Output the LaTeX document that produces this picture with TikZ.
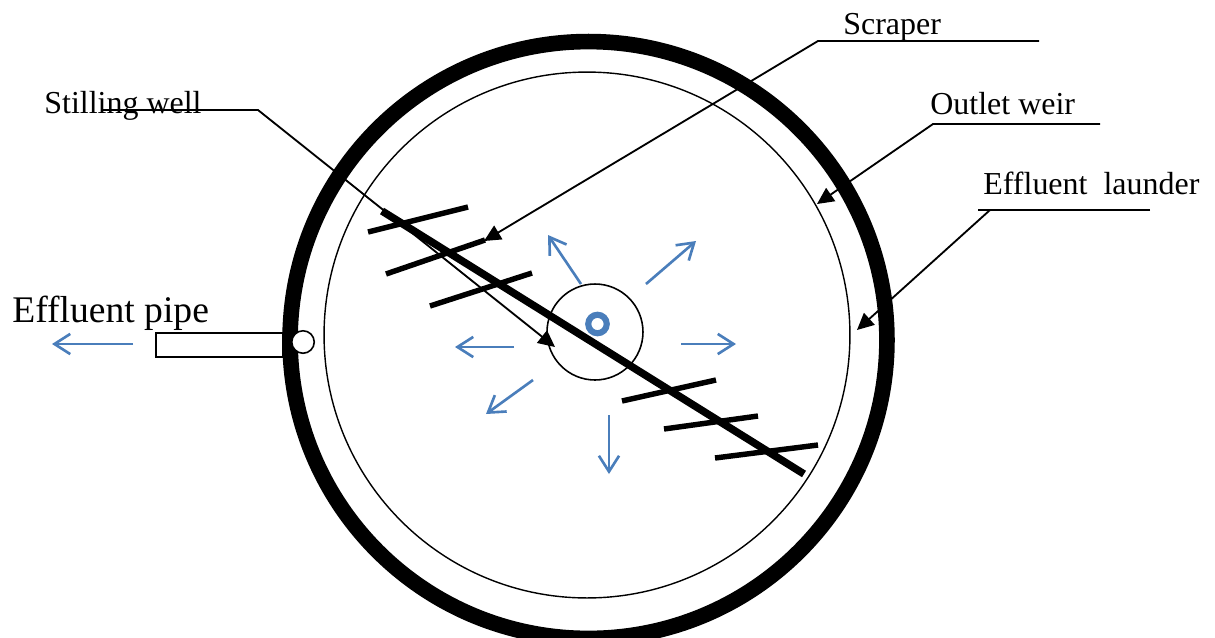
\documentclass[tikz,border=0pt]{standalone}
\usepackage{fontspec}
\setmainfont{Liberation Serif}
\usepackage{xcolor}
\usetikzlibrary{arrows.meta}
\definecolor{flowblue}{HTML}{4A7EBB}

\begin{document}
\begin{tikzpicture}[
    x=0.02cm, y=-0.02cm,
    ring/.style={draw, circle, inner sep=0pt},
    label/.style={anchor=base west, inner sep=0pt, font=\fontsize{18.2}{20}\selectfont},
    leader/.style={line width=1.05pt, -{Triangle[length=9.5pt,width=9pt]}},
    flow/.style={flowblue, line width=1.5pt, -{Straight Barb[length=9pt,width=11.5pt,line width=1.5pt]}},
    blade/.style={line width=3.1pt}
]
\useasboundingbox (0,0) rectangle (1215,637);
\clip (0,0) rectangle (1215,637);

% tank
\node (launder) [ring, line width=8.9pt, minimum size=11.94cm] at (588.5,340) {};
\node (weir) [ring, line width=0.8pt, minimum size=10.52cm] at (587,335) {};
\node (well) [ring, line width=0.9pt, minimum size=1.92cm] at (595,332) {};

% scraper arm and blades
\coordinate (armA) at (382,211);
\coordinate (armB) at (804,474);
\draw[line width=4.3pt] (armA) -- (armB);
\foreach \n/\xa/\ya/\xb/\yb in {1/368/232/468/207, 2/386/274/485/240, 3/430/306/532/273,
                                4/622/401/716/380, 5/664/429/758/416, 6/715/458/818/445} {
    \coordinate (bladeA\n) at (\xa,\ya);
    \coordinate (bladeB\n) at (\xb,\yb);
    \draw[blade] (bladeA\n) -- (bladeB\n);
}
\node (feed) [ring, draw=flowblue, line width=3.5pt, minimum size=0.37cm] at (597.5,324) {};

% pipe
\node (pipe) [draw, rectangle, inner sep=0pt, line width=0.9pt, minimum width=2.54cm, minimum height=0.48cm] at (219.5,345) {};
\node (outlet) [ring, fill=white, line width=0.9pt, minimum size=0.45cm] at (303,342) {};

% labels
\node (stilling) [label] at (44,113) {Stilling well};
\node (scraper) [label] at (843,34) {Scraper};
\node (outletweir) [label] at (930,114) {Outlet weir};
\node (efflaunder) [label] at (983,194) {Effluent\ \ launder};
\node (effpipe) [label, font=\fontsize{21.4}{24}\selectfont] at (12,322) {Effluent pipe};

% leaders
\coordinate (stillingA) at (103,110);
\coordinate (stillingB) at (258,110);
\coordinate (stillingC) at (555,347);
\coordinate (scraperA) at (1039,41);
\coordinate (scraperB) at (818,41);
\coordinate (scraperC) at (484,241);
\coordinate (outletA) at (1100,124);
\coordinate (outletB) at (933,124);
\coordinate (outletC) at (817,204);
\coordinate (laundA) at (1150,210);
\coordinate (laundB) at (978,210);
\coordinate (laundC) at (990,210);
\coordinate (laundD) at (857,330);
\draw[leader] (stillingA) -- (stillingB) -- (stillingC);
\draw[leader] (scraperA) -- (scraperB) -- (scraperC);
\draw[leader] (outletA) -- (outletB) -- (outletC);
\draw[line width=1.05pt] (laundA) -- (laundB);
\draw[leader] (laundC) -- (laundD);

% flow arrows
\foreach \n/\xa/\ya/\xb/\yb in {a/581/284/548/235, b/646/284/696/241, c/681/344/736/344, d/609/415/609/474,
                                e/533/380/486/414, f/514/347/455/347, g/133/344/52/344} {
    \coordinate (flowA\n) at (\xa,\ya);
    \coordinate (flowB\n) at (\xb,\yb);
    \draw[flow] (flowA\n) -- (flowB\n);
}
\end{tikzpicture}
\end{document}
